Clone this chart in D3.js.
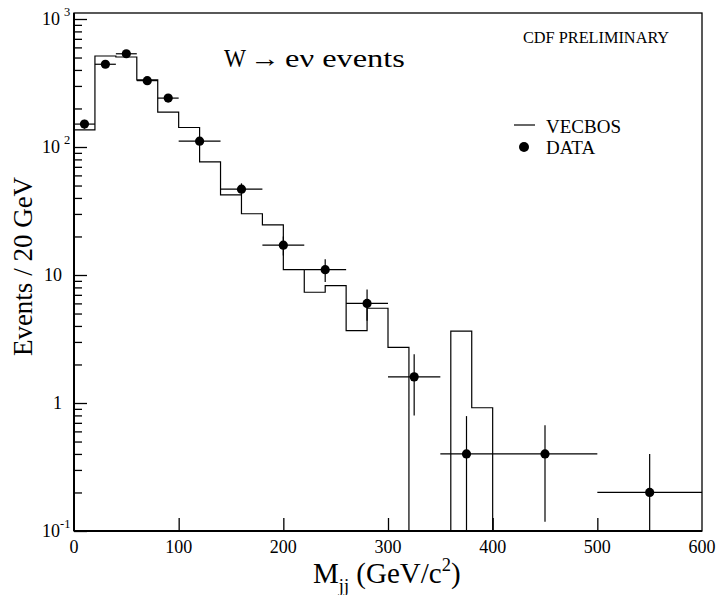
<!DOCTYPE html>
<html>
<head>
<meta charset="utf-8">
<script src="https://cdn.jsdelivr.net/npm/d3@7"></script>
<style>
  body { margin: 0; background: #fff; }
  text { font-family: "Liberation Serif", "Times New Roman", serif; fill: #000; }
</style>
</head>
<body>
<div id="chart"></div>
<script>
const w = 719,
      h = 595;

const margin = {top: 13, right: 17, bottom: 64, left: 74};

// VECBOS histogram, 20 GeV bins from 0 to 400
const binEdges = [0, 20, 40, 60, 80, 100, 120, 140, 160, 180, 200, 220, 240, 260, 280, 300, 320, 340, 360, 380, 400];
const vecbos = [136, 514, 505, 334, 187, 142, 76.4, 42.2, 30.1, 24.6, 11.0, 7.33, 8.26, 3.67, 5.5, 2.72, 0, 0, 3.65, 0.918];

// data points with errors
const dataX   = [10, 30, 50, 70, 90, 120, 160, 200, 240, 280, 325, 375, 450, 550];
const dataXlo = [0, 20, 40, 60, 80, 100, 140, 180, 220, 260, 300, 350, 400, 500];
const dataXhi = [20, 40, 60, 80, 100, 140, 180, 220, 260, 300, 350, 400, 500, 600];
const dataY   = [151, 443, 535, 330, 241, 111, 46.8, 17.1, 11.0, 6.0, 1.6, 0.4, 0.4, 0.2];
const dataYlo = [139, 422, 512, 312, 226, 104, 42, 14.2, 8.8, 4.4, 0.8, 0.1, 0.118, 0.1];
const dataYhi = [163, 464, 558, 348, 256, 118, 52, 20, 13.3, 7.7, 2.4, 0.79, 0.67, 0.40];

const xTicks = [0, 100, 200, 300, 400, 500, 600];
const yMajor = [0.1, 1, 10, 100, 1000];
const yLabels = [["10", "-1"], ["1", ""], ["10", ""], ["10", "2"], ["10", "3"]];

const svg = d3.select("#chart")
    .append("svg")
    .attr("width", w)
    .attr("height", h);

const x = d3.scaleLinear()
    .domain([0, 600])
    .range([margin.left, w - margin.right]);

const y = d3.scaleLog()
    .domain([0.1, 1000])
    .range([531, 19]);

const yBottom = y(0.1);
const yTop = margin.top;

// frame
svg.append("rect")
    .attr("x", x(0))
    .attr("y", yTop)
    .attr("width", x(600) - x(0))
    .attr("height", yBottom - yTop)
    .style("fill", "none")
    .style("stroke", "#000")
    .style("stroke-width", 1.3);

// y minor ticks
let yMinor = [];
for (let d = 0.1; d < 1000; d *= 10) {
    for (let k = 2; k <= 9; k++) yMinor.push(+(d * k).toPrecision(3));
}

svg.append("g")
    .attr("transform", "translate(" + x(0) + ",0)")
    .call(d3.axisRight(y).tickValues(yMinor).tickSize(8).tickFormat(""))
    .call(g => g.select(".domain").remove())
    .call(g => g.selectAll("line").style("stroke-width", 1.3));

svg.append("g")
    .attr("transform", "translate(" + x(0) + ",0)")
    .call(d3.axisRight(y).tickValues(yMajor).tickSize(13).tickFormat(""))
    .call(g => g.select(".domain").remove())
    .call(g => g.selectAll("line").style("stroke-width", 1.3));

// x ticks (inward)
svg.append("g")
    .attr("transform", "translate(0," + yBottom + ")")
    .call(d3.axisTop(x).tickValues(xTicks.slice(1, -1)).tickSize(13).tickFormat(""))
    .call(g => g.select(".domain").remove())
    .call(g => g.selectAll("line").style("stroke-width", 1.3));

// axis lines a bit heavier
svg.append("line")
    .attr("x1", x(0)).attr("x2", x(600))
    .attr("y1", yBottom).attr("y2", yBottom)
    .style("stroke", "#000").style("stroke-width", 2);
svg.append("line")
    .attr("x1", x(0)).attr("x2", x(0))
    .attr("y1", yTop).attr("y2", yBottom)
    .style("stroke", "#000").style("stroke-width", 2);

// y tick labels
yMajor.forEach((v, i) => {
    let lab = yLabels[i];
    let hasSup = lab[1] !== "";
    svg.append("text")
        .attr("x", hasSup ? 60 : 62)
        .attr("y", y(v) + 6)
        .attr("text-anchor", "end")
        .style("font-size", "18px")
        .text(lab[0]);
    if (hasSup) {
        svg.append("text")
            .attr("x", lab[1] === "-1" ? 60 : 64)
            .attr("y", y(v) - 3)
            .style("font-size", "12.5px")
            .text(lab[1]);
    }
});

// x tick labels
svg.selectAll(".xlab")
    .data(xTicks)
    .enter()
    .append("text")
    .attr("class", "xlab")
    .attr("x", d => x(d))
    .attr("y", 553)
    .attr("text-anchor", "middle")
    .style("font-size", "18px")
    .text(d => d);

// axis titles
const xt = svg.append("text")
    .attr("x", 313)
    .attr("y", 583)
    .style("font-size", "29px");
xt.append("tspan").text("M");
xt.append("tspan").attr("dy", 9).style("font-size", "18.5px").text("jj");
xt.append("tspan").attr("dy", -9).text(" (GeV/c");
xt.append("tspan").attr("dy", -12).style("font-size", "18.5px").text("2");
xt.append("tspan").attr("dy", 12).text(")");

svg.append("text")
    .attr("transform", "translate(32," + 266.5 + ") rotate(-90)")
    .attr("text-anchor", "middle")
    .style("font-size", "27px")
    .text("Events / 20 GeV");

// histogram step line
let pts = [[binEdges[0], 0]];
vecbos.forEach((v, i) => {
    pts.push([binEdges[i], v]);
    pts.push([binEdges[i + 1], v]);
});
pts.push([binEdges[binEdges.length - 1], 0]);

const line = d3.line()
    .x(d => x(d[0]))
    .y(d => d[1] > 0 ? y(d[1]) : yBottom);

svg.append("path")
    .datum(pts)
    .attr("d", line)
    .style("fill", "none")
    .style("stroke", "#000")
    .style("stroke-width", 1.2);

// data error bars and points
const pts2 = dataX.map((d, i) => ({x: d, xlo: dataXlo[i], xhi: dataXhi[i], y: dataY[i], ylo: dataYlo[i], yhi: dataYhi[i]}));

svg.selectAll(".ex")
    .data(pts2)
    .enter()
    .append("line")
    .attr("x1", d => x(d.xlo))
    .attr("x2", d => x(d.xhi))
    .attr("y1", d => y(d.y))
    .attr("y2", d => y(d.y))
    .style("stroke", "#000")
    .style("stroke-width", 1.2);

svg.selectAll(".ey")
    .data(pts2)
    .enter()
    .append("line")
    .attr("x1", d => x(d.x))
    .attr("x2", d => x(d.x))
    .attr("y1", d => y(d.ylo))
    .attr("y2", d => y(d.yhi))
    .style("stroke", "#000")
    .style("stroke-width", 1.2);

svg.selectAll(".dot")
    .data(pts2)
    .enter()
    .append("circle")
    .attr("cx", d => x(d.x))
    .attr("cy", d => y(d.y))
    .attr("r", 4.6)
    .style("fill", "#000");

// annotations: W -> e nu events, each piece stretched to the width it has in the original
function fitText(txt, x0, width, size) {
    const t = svg.append("text")
        .attr("x", 0)
        .attr("y", 0)
        .style("font-size", size + "px")
        .text(txt);
    const len = t.node().getComputedTextLength();
    t.attr("transform", "translate(" + x0 + ",67) scale(" + (width / len) + ",1)");
}
fitText("W", 224, 22, 25);
fitText("\u2192", 250, 30, 25);
fitText("e\u03bd events", 285, 120, 26);

svg.append("text")
    .attr("x", 523)
    .attr("y", 43)
    .style("font-size", "16.3px")
    .text("CDF PRELIMINARY");

// legend
svg.append("line")
    .attr("x1", 514).attr("x2", 535)
    .attr("y1", 125).attr("y2", 125)
    .style("stroke", "#000")
    .style("stroke-width", 1.2);
svg.append("text")
    .attr("x", 546).attr("y", 132.5)
    .style("font-size", "19px")
    .text("VECBOS");
svg.append("circle")
    .attr("cx", 524).attr("cy", 147)
    .attr("r", 5)
    .style("fill", "#000");
svg.append("text")
    .attr("x", 546).attr("y", 154)
    .style("font-size", "19px")
    .text("DATA");
</script>
</body>
</html>
